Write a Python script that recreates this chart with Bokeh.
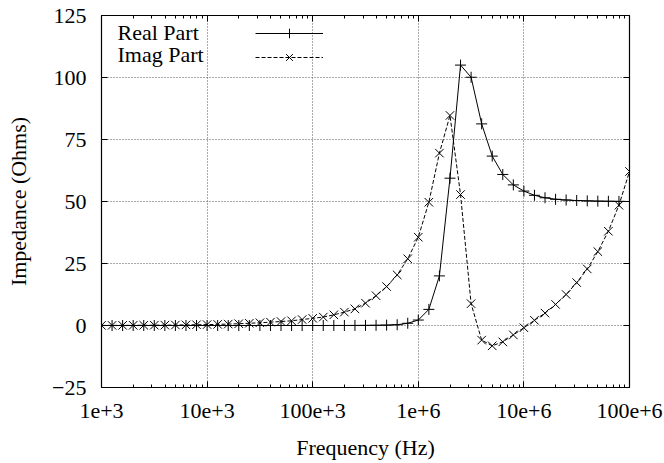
from bokeh.plotting import figure
from bokeh.models import (LogAxis, LinearAxis, FixedTicker, Legend, LegendItem,
                          Label, Range1d, ColumnDataSource, CustomJSTickFormatter)
from bokeh.embed import file_html
from bokeh.resources import INLINE

# ---- data ----
freq = [1000, 1259, 1585, 1995, 2512, 3162, 3981, 5012, 6310, 7943,
        10000, 12589, 15849, 19953, 25119, 31623, 39811, 50119, 63096, 79433,
        100000, 125893, 158489, 199526, 251189, 316228, 398107, 501187, 630957, 794328,
        1000000, 1258925, 1584893, 1995262, 2511886, 3162278, 3981072, 5011872, 6309573, 7943282,
        10000000, 12589254, 15848932, 19952623, 25118864, 31622777, 39810717, 50118723, 63095734, 79432823,
        100000000]

real_part = [0.0, 0.0, 0.0, 0.0, 0.0, 0.0, 0.0, 0.0, 0.0, 0.0,
             0.0, 0.0, 0.0, 0.0, 0.0, 0.0, 0.0, 0.0, 0.0, 0.0,
             0.0, 0.0, 0.01, 0.01, 0.02, 0.04, 0.08, 0.15, 0.3, 0.9,
             2.2, 6.5, 20.0, 59.4, 105.0, 100.1, 81.3, 68.3, 60.9, 56.7,
             54.2, 52.5, 51.5, 50.9, 50.6, 50.4, 50.25, 50.15, 50.1, 50.05,
             50.0]

imag_part = [0.04, 0.05, 0.06, 0.08, 0.1, 0.12, 0.15, 0.19, 0.24, 0.3,
             0.36, 0.45, 0.57, 0.72, 0.9, 1.1, 1.35, 1.6, 1.9, 2.4,
             2.9, 3.4, 4.3, 5.4, 6.7, 9.0, 12.0, 15.7, 20.4, 26.9,
             35.6, 49.7, 69.5, 84.7, 52.8, 8.8, -5.9, -8.2, -6.6, -3.8,
             -0.9, 2.1, 5.0, 8.5, 12.5, 17.3, 22.8, 29.8, 38.0, 48.5,
             62.1]

x_ticks = [1e3, 1e4, 1e5, 1e6, 1e7, 1e8]
x_tick_labels = ["1e+3", "10e+3", "100e+3", "1e+6", "10e+6", "100e+6"]
x_minor_mantissas = [2, 3, 4, 5, 6, 7, 8, 9]
y_ticks = [-25, 0, 25, 50, 75, 100, 125]

series_names = ["Real Part", "Imag Part"]
x_label = "Frequency (Hz)"
y_label = "Impedance (Ohms)"

FONT = "'Liberation Serif', 'Times New Roman', Times, serif"
FS = "22px"

src = ColumnDataSource(data=dict(f=freq, re=real_part, im=imag_part))

p = figure(width=664, height=463, x_axis_type="log",
           x_range=Range1d(1e3, 1e8), y_range=Range1d(-25, 125),
           output_backend="svg", toolbar_location=None,
           min_border_left=101, min_border_right=35,
           min_border_top=15, min_border_bottom=76)
p.background_fill_color = "white"
p.border_fill_color = "white"
p.outline_line_color = "black"
p.outline_line_width = 1.2

bottom_ax = p.below[0]
left_ax = p.left[0]

minor = [m * t for t in x_ticks[:-1] for m in x_minor_mantissas]
xt = FixedTicker(ticks=x_ticks, minor_ticks=minor)
yt = FixedTicker(ticks=y_ticks, minor_ticks=[])
overrides = {t: lab for t, lab in zip(x_ticks, x_tick_labels)}
blank = CustomJSTickFormatter(code="return '';")

top_ax = LogAxis(ticker=xt, formatter=blank)
right_ax = LinearAxis(ticker=yt, formatter=blank)
p.add_layout(top_ax, "above")
p.add_layout(right_ax, "right")

for ax in [bottom_ax, top_ax, left_ax, right_ax]:
    ax.major_tick_in = 6
    ax.major_tick_out = 0
    ax.minor_tick_in = 3
    ax.minor_tick_out = 0
    ax.axis_line_color = None
    ax.major_tick_line_color = "black"
    ax.minor_tick_line_color = "black"
    ax.major_label_text_font = FONT
    ax.major_label_text_font_size = FS
    ax.major_label_text_color = "black"
    ax.axis_label_text_font = FONT
    ax.axis_label_text_font_size = FS
    ax.axis_label_text_font_style = "normal"
    ax.axis_label_text_color = "black"

top_ax.major_label_standoff = 0
right_ax.major_label_standoff = 0

bottom_ax.ticker = xt
left_ax.ticker = yt
bottom_ax.major_label_overrides = overrides
bottom_ax.major_label_standoff = 16
left_ax.major_label_standoff = 15
bottom_ax.axis_label = x_label
left_ax.axis_label = y_label
bottom_ax.axis_label_standoff = 14
left_ax.axis_label_standoff = 18

p.xgrid.ticker = xt
p.ygrid.ticker = yt
for g in [p.xgrid, p.ygrid]:
    g.grid_line_color = "#555555"
    g.grid_line_dash = "1 2"
    g.grid_line_width = 1

r1l = p.line("f", "re", source=src, line_color="black", line_width=1)
r1m = p.scatter("f", "re", source=src, marker="cross", size=11,
                line_color="black", line_width=1)
r2l = p.line("f", "im", source=src, line_color="black", line_width=1,
             line_dash="4 2")
r2m = p.scatter("f", "im", source=src, marker="x", size=12,
                line_color="black", line_width=1)

legend = Legend(items=[LegendItem(label=" ", renderers=[r1l, r1m]),
                       LegendItem(label=" ", renderers=[r2l, r2m])],
                location=(154, 318), glyph_width=68, glyph_height=24,
                spacing=0, padding=0, margin=0,
                border_line_alpha=0, background_fill_alpha=0,
                label_text_font_size="1px", label_width=0, label_height=21,
                label_standoff=0)
p.add_layout(legend)

for name, yb in zip(series_names, [355, 333]):
    p.add_layout(Label(x=16, y=yb, x_units="screen", y_units="screen",
                       text=name, text_font=FONT, text_font_size=FS,
                       text_color="black", text_baseline="alphabetic"))

open("out.html", "w").write(file_html(p, INLINE))
